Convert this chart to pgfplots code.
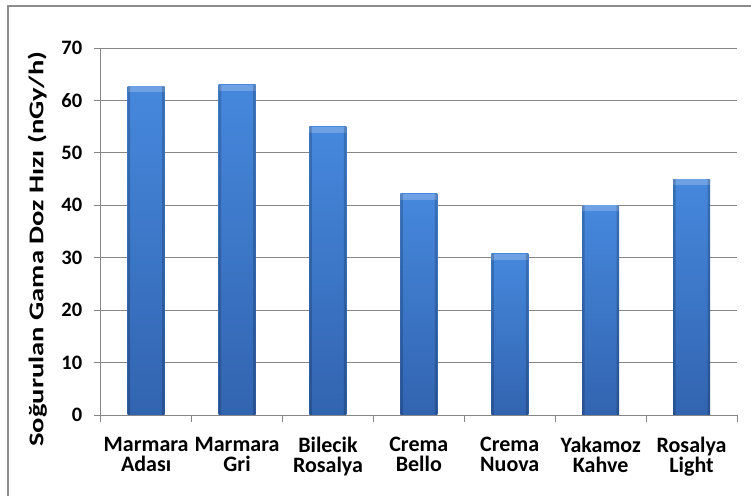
\documentclass[border=0pt]{standalone}
\usepackage{fontspec}
\setmainfont{Carlito}
\newfontfamily\ylabfont[FakeStretch=1.36]{Carlito}
\usepackage{pgfplots}
\pgfplotsset{compat=1.18}
\definecolor{gridgray}{RGB}{134,134,134}
\definecolor{framegray}{RGB}{140,140,140}
\definecolor{bartop}{RGB}{70,136,221}
\definecolor{barbot}{RGB}{50,100,176}

% one bar per \addplot so the shading is worked out for each bar;
% bevel drawn with basic-layer commands (TikZ paths here would recurse)
\pgfplotsset{
  gbar/.style={
    bar shift=0pt, draw=none,
    top color=bartop, bottom color=barbot,
    path picture={
      \pgfsetfillcolor{white}\pgfsetfillopacity{0.22}
      \pgfpathrectanglecorners
        {\pgfpointanchor{path picture bounding box}{north west}}
        {\pgfpointadd{\pgfpointanchor{path picture bounding box}{north east}}{\pgfpoint{0pt}{-6bp}}}
      \pgfusepath{fill}
      \pgfsetfillcolor{black}\pgfsetfillopacity{0.18}
      \pgfpathrectanglecorners
        {\pgfpointanchor{path picture bounding box}{south west}}
        {\pgfpointadd{\pgfpointanchor{path picture bounding box}{north west}}{\pgfpoint{2.5bp}{0pt}}}
      \pgfpathrectanglecorners
        {\pgfpointanchor{path picture bounding box}{south east}}
        {\pgfpointadd{\pgfpointanchor{path picture bounding box}{north east}}{\pgfpoint{-2.5bp}{0pt}}}
      \pgfusepath{fill}
    },
  },
}

\begin{document}
\begin{tikzpicture}
\useasboundingbox (0,0) rectangle (751bp,496bp);
\draw[framegray, line width=1.2bp] (8bp,-5bp) -- (8bp,490bp) -- (760bp,490bp);
\begin{axis}[
    at={(100.7bp,81bp)}, anchor=south west,
    scale only axis,
    width=636.3bp, height=367bp,
    ymin=0, ymax=70,
    ytick={0,10,...,70},
    xmin=-0.5, xmax=6.5,
    xtick={-0.5,0.5,...,6.5},
    xticklabels={},
    extra x ticks={0,1,2,3,4,5,6},
    extra x tick labels={{Marmara\\Adası},{Marmara\\Gri},{Bilecik\\Rosalya},{Crema\\Bello},{Crema\\Nuova},{Yakamoz\\Kahve},{Rosalya\\Light}},
    extra x tick style={major tick length=0pt},
    axis x line*=bottom,
    axis y line*=left,
    axis line style={draw=gridgray, line width=0.8bp, -},
    tick align=outside,
    major tick length=7bp,
    tick style={draw=gridgray, line width=0.8bp},
    ymajorgrids,
    grid style={draw=gridgray, line width=0.8bp},
    x tick label style={font=\bfseries\fontsize{22bp}{20bp}\selectfont, align=center, yshift=-18.5bp},
    y tick label style={font=\bfseries\fontsize{20.5bp}{24bp}\selectfont, xshift=-8bp,
        /pgf/number format/assume math mode=true},
    ylabel={\ylabfont\bfseries Soğurulan Gama Doz Hızı (nGy/h)},
    ylabel style={at={(axis description cs:-0.0995,0.452)}, anchor=center,
        font=\fontsize{21bp}{24bp}\selectfont},
    ybar,
    bar width=37bp,
]
\addplot[gbar] coordinates {(0,62.7)};
\addplot[gbar] coordinates {(1,63.0)};
\addplot[gbar] coordinates {(2,55.0)};
\addplot[gbar] coordinates {(3,42.2)};
\addplot[gbar] coordinates {(4,30.8)};
\addplot[gbar] coordinates {(5,40.0)};
\addplot[gbar] coordinates {(6,45.0)};
\end{axis}
\end{tikzpicture}
\end{document}
